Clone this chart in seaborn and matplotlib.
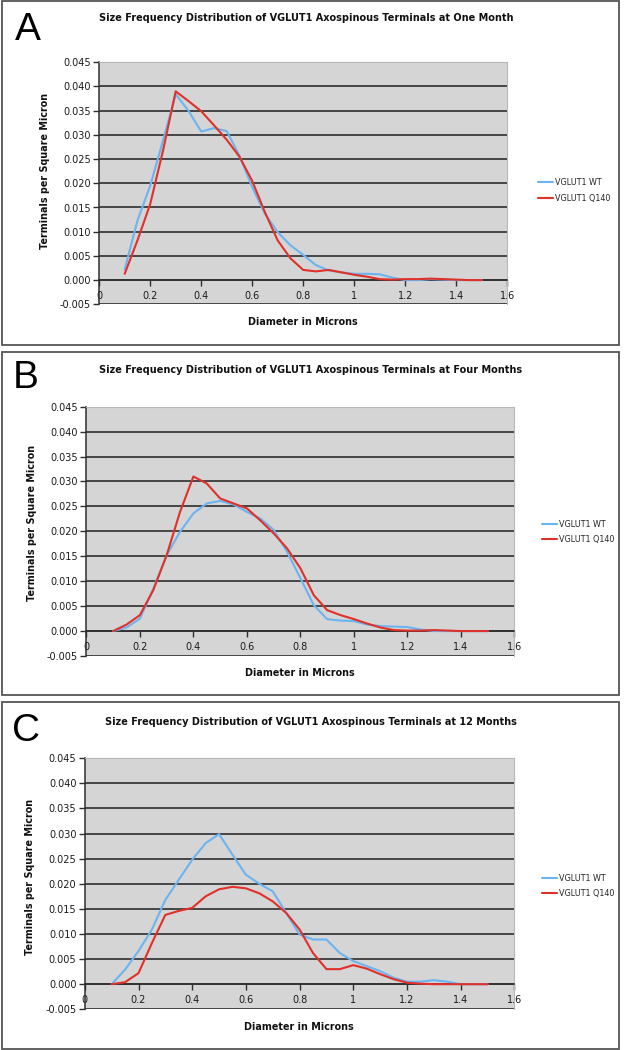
import pandas as pd
import matplotlib
matplotlib.use("Agg")
import matplotlib.pyplot as plt
import matplotlib.ticker as mticker
from matplotlib.patches import Rectangle
import seaborn as sns

# diametro (micras) - mismos puntos para todas las series
x_um = [0.1, 0.15, 0.2, 0.25, 0.3, 0.35, 0.4, 0.45, 0.5, 0.55, 0.6, 0.65, 0.7, 0.75,
        0.8, 0.85, 0.9, 0.95, 1.0, 1.05, 1.1, 1.15, 1.2, 1.25, 1.3, 1.35, 1.4, 1.45, 1.5]

# Panel A - un mes
a_wt = [0.0022, 0.0123, 0.0195, 0.0288, 0.0384, 0.0350, 0.0307, 0.0314, 0.0308, 0.0257,
        0.0192, 0.0137, 0.0099, 0.0072, 0.0052, 0.0031, 0.0020, 0.0016, 0.0013, 0.0013,
        0.0012, 0.0005, 0.0000, 0.0000, 0.0002, 0.0001, 0.0000, 0.0000, 0.0000]
a_q140 = [0.0013, 0.0082, 0.0157, 0.0267, 0.0390, 0.0370, 0.0349, 0.0320, 0.0290, 0.0255,
          0.0205, 0.0140, 0.0082, 0.0045, 0.0021, 0.0018, 0.0021, 0.0016, 0.0011, 0.0007,
          0.0002, 0.0001, 0.0002, 0.0002, 0.0003, 0.0002, 0.0001, 0.0000, 0.0000]

# Panel B - cuatro meses
b_wt = [0.0000, 0.0007, 0.0025, 0.0085, 0.0152, 0.0199, 0.0236, 0.0256, 0.0261, 0.0254,
        0.0239, 0.0226, 0.0203, 0.0159, 0.0106, 0.0052, 0.0024, 0.0021, 0.0020, 0.0013,
        0.0010, 0.0009, 0.0008, 0.0003, 0.0000, 0.0000, 0.0000, 0.0000, 0.0000]
b_q140 = [0.0000, 0.0013, 0.0032, 0.0082, 0.0152, 0.0239, 0.0310, 0.0296, 0.0266, 0.0256,
          0.0246, 0.0222, 0.0196, 0.0166, 0.0126, 0.0072, 0.0042, 0.0032, 0.0024, 0.0015,
          0.0007, 0.0002, 0.0001, 0.0001, 0.0002, 0.0001, 0.0000, 0.0000, 0.0000]

# Panel C - 12 meses
c_wt = [0.0000, 0.0029, 0.0066, 0.0109, 0.0168, 0.0208, 0.0248, 0.0281, 0.0299, 0.0258,
        0.0218, 0.0200, 0.0185, 0.0142, 0.0099, 0.0089, 0.0089, 0.0062, 0.0046, 0.0036,
        0.0026, 0.0013, 0.0005, 0.0005, 0.0008, 0.0005, 0.0000, 0.0000, 0.0000]
c_q140 = [0.0000, 0.0004, 0.0022, 0.0082, 0.0138, 0.0146, 0.0152, 0.0175, 0.0189, 0.0194,
          0.0191, 0.0181, 0.0165, 0.0142, 0.0109, 0.0062, 0.0030, 0.0030, 0.0038, 0.0031,
          0.0020, 0.0010, 0.0003, 0.0001, 0.0000, 0.0000, 0.0000, 0.0000, 0.0000]

series_names = ["VGLUT1 WT", "VGLUT1 Q140"]
letters = ["A", "B", "C"]
titles = [
    "Size Frequency Distribution of VGLUT1 Axospinous Terminals at One Month",
    "Size Frequency Distribution of VGLUT1 Axospinous Terminals at Four Months",
    "Size Frequency Distribution of VGLUT1 Axospinous Terminals at 12 Months",
]
x_ticks = [0, 0.2, 0.4, 0.6, 0.8, 1.0, 1.2, 1.4, 1.6]
y_ticks = [-0.005, 0.0, 0.005, 0.010, 0.015, 0.020, 0.025, 0.030, 0.035, 0.040, 0.045]

sns.set_style("white")
plt.rcParams["font.family"] = ["DejaVu Sans"]

W, H = 626, 1050
fig = plt.figure(figsize=(W / 100, H / 100), dpi=100)

palette = {"VGLUT1 WT": "#6cb4f0", "VGLUT1 Q140": "#e0302a"}

# posiciones en pixeles: caja, ejes, textos
layout = [
    dict(box=(2, 1, 619, 345), ax=(99.2, 62.3, 507.2, 304.3), letter=(15, 40), title=(306, 18),
         ylab=(45, 171), xlab=(303, 322), leg=(534, 190.5)),
    dict(box=(2, 352, 619, 695), ax=(86.4, 406.7, 514.4, 656), letter=(13, 388), title=(311, 370),
         ylab=(32, 523), xlab=(300, 673), leg=(538, 532)),
    dict(box=(2, 702, 619, 1049), ax=(84.8, 758.3, 514.4, 1009.3), letter=(12, 741), title=(311, 722),
         ylab=(30, 877), xlab=(299, 1027), leg=(538, 886)),
]
data = [(a_wt, a_q140), (b_wt, b_q140), (c_wt, c_q140)]


def fx(px):
    return px / W


def fy(py):
    return 1 - py / H


for i, (wt, q140) in enumerate(data):
    L = layout[i]
    bx0, by0, bx1, by1 = L["box"]
    fig.patches.append(Rectangle((fx(bx0), fy(by1)), fx(bx1) - fx(bx0), fy(by0) - fy(by1),
                                 transform=fig.transFigure, fill=False, edgecolor="#555555",
                                 linewidth=1.3, zorder=0))

    x0, y0, x1, y1 = L["ax"]
    ax = fig.add_axes([fx(x0), fy(y1), fx(x1) - fx(x0), fy(y0) - fy(y1)])
    ax.set_facecolor("#d5d5d5")

    df = pd.DataFrame({
        "x": x_um * 2,
        "y": list(wt) + list(q140),
        "serie": [series_names[0]] * len(wt) + [series_names[1]] * len(q140),
    })
    sns.lineplot(data=df, x="x", y="y", hue="serie", palette=palette, linewidth=1.5,
                 ax=ax, zorder=5)

    ax.set_xlim(0, 1.6)
    ax.set_ylim(-0.005, 0.045)
    ax.set_xticks(x_ticks)
    ax.set_yticks(y_ticks)
    ax.xaxis.set_major_formatter(mticker.FuncFormatter(lambda v, p: f"{v:g}"))
    ax.yaxis.set_major_formatter(mticker.FuncFormatter(lambda v, p: f"{v:.3f}"))
    ax.yaxis.grid(True, color="#2e2e2e", linewidth=1.2)
    ax.set_axisbelow(True)
    for s in ["top", "right"]:
        ax.spines[s].set_color("#b8b8b8")
        ax.spines[s].set_linewidth(0.8)
    ax.spines["left"].set_color("#2e2e2e")
    ax.spines["left"].set_linewidth(1.1)
    ax.spines["bottom"].set_position(("data", 0))
    ax.spines["bottom"].set_color("#2e2e2e")
    ax.spines["bottom"].set_linewidth(1.1)
    ax.tick_params(axis="y", left=True, direction="out", length=4, width=1, color="#2e2e2e",
                   labelsize=7, pad=2, labelcolor="#1a1a1a")
    ax.tick_params(axis="x", bottom=True, direction="out", length=4, width=1, color="#2e2e2e",
                   labelsize=7, pad=4, labelcolor="#1a1a1a")
    ax.set_xlabel("")
    ax.set_ylabel("")

    sns.move_legend(ax, "center left", bbox_to_anchor=(fx(L["leg"][0]), fy(L["leg"][1])),
                    bbox_transform=fig.transFigure, frameon=False, title=None, fontsize=5.8,
                    handlelength=1.9, handletextpad=0.25, labelspacing=0.8, borderpad=0)

    fig.text(fx(L["letter"][0]), fy(L["letter"][1]), letters[i], fontsize=28, color="black",
             family=["Liberation Sans", "DejaVu Sans"], va="baseline", ha="left")
    fig.text(fx(L["title"][0]), fy(L["title"][1]), titles[i], fontsize=7, fontweight="bold",
             ha="center", va="center", color="#111111")
    fig.text(fx(L["ylab"][0]), fy(L["ylab"][1]), "Terminals per Square Micron", fontsize=6.9,
             fontweight="bold", rotation=90, ha="center", va="center", color="#111111")
    fig.text(fx(L["xlab"][0]), fy(L["xlab"][1]), "Diameter in Microns", fontsize=6.9,
             fontweight="bold", ha="center", va="center", color="#111111")

fig.savefig("out.png", dpi=100, facecolor="white")
